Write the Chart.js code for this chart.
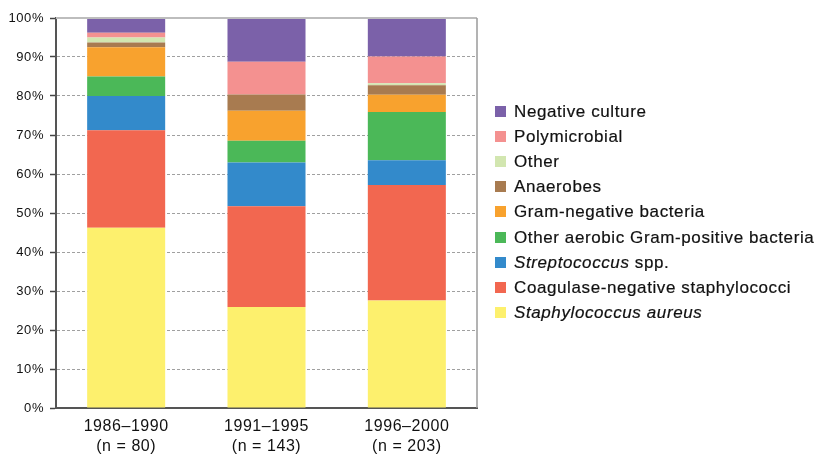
<!DOCTYPE html>
<html>
<head>
<meta charset="utf-8">
<script src="https://cdn.jsdelivr.net/npm/chart.js@4/dist/chart.umd.min.js"></script>
<style>
  html, body { margin: 0; padding: 0; background: #fff; }
  #wrap { position: relative; width: 819px; height: 456px; }
  #c { position: absolute; left: 0; top: 0; }
  #legend { position: absolute; left: 495px; top: 0; font-family: "Liberation Sans", Arial, Helvetica, sans-serif; font-size: 17px; letter-spacing: 0.6px; color: #111; -webkit-text-stroke: 0.2px #111; }
  .item { position: absolute; left: 0; white-space: nowrap; height: 20px; line-height: 20px; }
  .sw { position: absolute; left: 0; top: 4px; width: 11px; height: 11px; }
  .lab { position: absolute; left: 19px; top: 0; }
</style>
</head>
<body>
<div id="wrap">
  <canvas id="c" width="819" height="456"></canvas>
  <div id="legend"></div>
</div>
<script>
// Categories (x-axis labels, two lines each)
const categories = [["1986–1990", "(n = 80)"], ["1991–1995", "(n = 143)"], ["1996–2000", "(n = 203)"]];

// Series values (% of cases per period), bottom to top
const staphAureus   = [46.25, 25.87, 27.59];
const coNS          = [25.00, 25.87, 29.56];
const streptococcus = [8.75, 11.19, 6.40];
const otherGramPos  = [5.00, 5.59, 12.32];
const gramNegative  = [7.50, 7.69, 4.43];
const anaerobes     = [1.25, 4.20, 2.46];
const other         = [1.25, 0.00, 0.49];
const polymicrobial = [1.25, 8.39, 6.90];
const negCulture    = [3.75, 11.19, 9.85];

// Series labels: [name, italic part?, trailing upright text]
const seriesLabels = [
  ["Staphylococcus aureus", true, ""],
  ["Coagulase-negative staphylococci", false, ""],
  ["Streptococcus", true, " spp."],
  ["Other aerobic Gram-positive bacteria", false, ""],
  ["Gram-negative bacteria", false, ""],
  ["Anaerobes", false, ""],
  ["Other", false, ""],
  ["Polymicrobial", false, ""],
  ["Negative culture", false, ""]
];
const seriesData = [staphAureus, coNS, streptococcus, otherGramPos, gramNegative, anaerobes, other, polymicrobial, negCulture];
const seriesColors = ["#FDF06D", "#F26750", "#338ACB", "#4BB858", "#F8A22E", "#A87B50", "#D2E6B0", "#F49190", "#7B61A9"];

// Y tick values
const yTicks = [0, 10, 20, 30, 40, 50, 60, 70, 80, 90, 100];

const datasets = seriesData.map((d, i) => ({
  label: seriesLabels[i][0] + seriesLabels[i][2],
  data: d,
  backgroundColor: seriesColors[i],
  borderWidth: 0,
  categoryPercentage: 1.0,
  barPercentage: 0.556
}));

const spacing = {
  id: 'spacing',
  beforeInit(chart) { chart.ctx.letterSpacing = '0.55px'; },
  beforeUpdate(chart) { chart.ctx.letterSpacing = '0.55px'; },
  beforeDraw(chart) { chart.ctx.letterSpacing = '0.55px'; }
};

const frame = {
  id: 'frame',
  afterDraw(chart) {
    const {ctx, chartArea: a} = chart;
    ctx.save();
    ctx.strokeStyle = '#bdbdbd';
    ctx.lineWidth = 2;
    ctx.beginPath();
    ctx.moveTo(a.left, a.top);
    ctx.lineTo(a.right, a.top);
    ctx.stroke();
    ctx.strokeStyle = '#9a9a9a';
    ctx.lineWidth = 1.5;
    ctx.beginPath();
    ctx.moveTo(a.right, a.top);
    ctx.lineTo(a.right, a.bottom);
    ctx.stroke();
    ctx.restore();
  }
};

const FONT = '"Liberation Sans", Arial, Helvetica, sans-serif';

new Chart(document.getElementById('c'), {
  type: 'bar',
  data: { labels: categories, datasets },
  plugins: [spacing, frame],
  options: {
    responsive: false,
    animation: false,
    layout: { padding: { left: 0, right: 342, top: 18, bottom: 0 } },
    plugins: { legend: { display: false }, tooltip: { enabled: false } },
    scales: {
      x: {
        stacked: true,
        grid: { display: false, drawTicks: false },
        border: { display: true, color: '#555', width: 2 },
        ticks: { color: '#111', font: { family: FONT, size: 16, lineHeight: 1.25 }, padding: 9, maxRotation: 0 },
        afterFit(s) { s.height = 48; }
      },
      y: {
        stacked: true,
        min: 0, max: 100,
        afterBuildTicks(s) { s.ticks = yTicks.map(v => ({ value: v })); },
        grid: {
          color: c => (c.tick && (c.tick.value === 0 || c.tick.value === 100)) ? 'rgba(0,0,0,0)' : '#a0a0a0',
          lineWidth: 1,
          drawTicks: true,
          tickLength: 6,
          tickColor: '#444',
          tickWidth: 1.5
        },
        border: { display: true, color: '#555', width: 2, dash: [3, 2] },
        ticks: {
          color: '#111',
          font: { family: FONT, size: 13 },
          padding: 6,
          callback: v => v + '%'
        },
        afterFit(s) { s.width = 56; }
      }
    }
  }
});

// HTML legend (allows italic species names), top-to-bottom = reverse stacking
const legend = document.getElementById('legend');
const order = seriesLabels.map((_, i) => i).reverse();
order.forEach((idx, row) => {
  const item = document.createElement('div');
  item.className = 'item';
  item.style.top = (102 + row * 25.1) + 'px';
  const sw = document.createElement('span');
  sw.className = 'sw';
  sw.style.background = seriesColors[idx];
  const lab = document.createElement('span');
  lab.className = 'lab';
  const [main, ital, rest] = seriesLabels[idx];
  if (ital) {
    const it = document.createElement('i');
    it.textContent = main;
    lab.appendChild(it);
    lab.appendChild(document.createTextNode(rest));
  } else {
    lab.textContent = main;
  }
  item.appendChild(sw);
  item.appendChild(lab);
  legend.appendChild(item);
});
</script>
</body>
</html>
